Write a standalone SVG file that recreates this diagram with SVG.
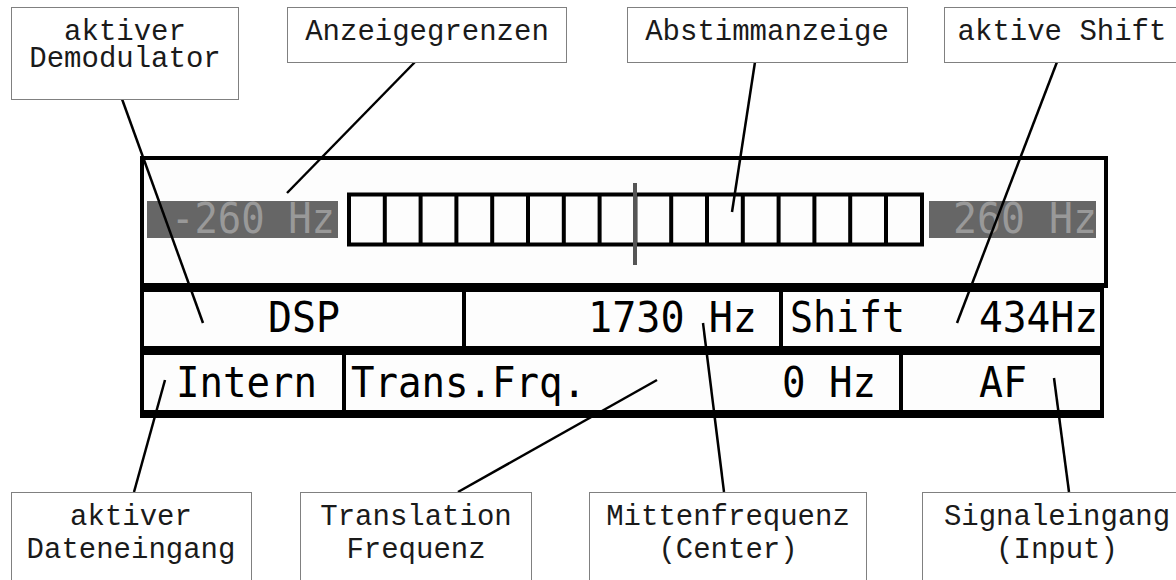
<svg xmlns="http://www.w3.org/2000/svg" width="1176" height="580" viewBox="0 0 1176 580">
<style>
.lbl rect{fill:#fff;stroke:#808080;stroke-width:1}
.lbl text{font-family:"Liberation Mono","Courier New",monospace;font-size:29px;fill:#1a1a1a;text-anchor:middle}
.lcd{font-family:"DejaVu Sans Mono","Liberation Mono",monospace;font-size:42px;fill:#000}
.lim{font-family:"DejaVu Sans Mono","Liberation Mono",monospace;font-size:42px;fill:#999}
.blk{fill:#000}
.conn line{stroke:#000;stroke-width:2.5;stroke-linecap:butt}
</style>
<rect width="1176" height="580" fill="#fff"/>

<g id="display">
  <rect x="142" y="158" width="964" height="128" fill="#fdfdfd" stroke="#000" stroke-width="4"/>
  <rect x="143" y="292" width="957" height="118" fill="#fdfdfd"/>
  <rect class="blk" x="140" y="283" width="964" height="9"/>
  <rect class="blk" x="140" y="346" width="964" height="9"/>
  <rect class="blk" x="140" y="410" width="964" height="8"/>
  <rect class="blk" x="140" y="283" width="4" height="135"/>
  <rect class="blk" x="1100" y="283" width="4" height="135"/>
  <rect class="blk" x="462" y="292" width="4" height="54"/>
  <rect class="blk" x="779" y="292" width="4" height="54"/>
  <rect class="blk" x="342" y="355" width="4" height="55"/>
  <rect class="blk" x="899" y="355" width="4" height="55"/>

  <rect x="147" y="201" width="191" height="37" fill="#666"/>
  <text class="lim" x="171" y="233" textLength="164" lengthAdjust="spacingAndGlyphs">-260 Hz</text>
  <rect x="929" y="201" width="167" height="37" fill="#666"/>
  <text class="lim" x="953" y="233" textLength="144" lengthAdjust="spacingAndGlyphs">260 Hz</text>

  <rect x="349" y="194.5" width="573" height="50" fill="none" stroke="#000" stroke-width="4"/>
  <path d="M384.8 194.5V244.5M420.6 194.5V244.5M456.4 194.5V244.5M492.2 194.5V244.5M528 194.5V244.5M563.8 194.5V244.5M599.6 194.5V244.5M635.4 194.5V244.5M671.2 194.5V244.5M707 194.5V244.5M742.8 194.5V244.5M778.6 194.5V244.5M814.4 194.5V244.5M850.2 194.5V244.5M886 194.5V244.5" stroke="#000" stroke-width="4" fill="none"/>
  <rect x="633" y="183" width="4" height="82" fill="#555"/>

  <text class="lcd" x="268" y="332" textLength="72" lengthAdjust="spacingAndGlyphs">DSP</text>
  <text class="lcd" x="588" y="332" textLength="169" lengthAdjust="spacingAndGlyphs">1730 Hz</text>
  <text class="lcd" x="790" y="332" textLength="115" lengthAdjust="spacingAndGlyphs">Shift</text>
  <text class="lcd" x="979" y="332" textLength="119" lengthAdjust="spacingAndGlyphs">434Hz</text>
  <text class="lcd" x="176" y="397" textLength="141" lengthAdjust="spacingAndGlyphs">Intern</text>
  <text class="lcd" x="351" y="397" textLength="235" lengthAdjust="spacingAndGlyphs">Trans.Frq.</text>
  <text class="lcd" x="782" y="397" textLength="94" lengthAdjust="spacingAndGlyphs">0 Hz</text>
  <text class="lcd" x="979" y="397" textLength="48" lengthAdjust="spacingAndGlyphs">AF</text>
</g>

<g id="connectors" class="conn">
  <line x1="122" y1="99" x2="203" y2="323"/>
  <line x1="415" y1="62" x2="287" y2="193"/>
  <line x1="755" y1="62" x2="732" y2="212"/>
  <line x1="1057" y1="62" x2="957" y2="323"/>
  <line x1="134" y1="492" x2="165" y2="380"/>
  <line x1="458" y1="492" x2="657" y2="380"/>
  <line x1="724" y1="492" x2="703" y2="323"/>
  <line x1="1069" y1="492" x2="1054" y2="378"/>
</g>

<g id="lbl-demodulator" class="lbl">
  <rect x="11.5" y="7.5" width="227" height="92"/>
  <text x="125" y="39.5">aktiver</text>
  <text x="125" y="66.5">Demodulator</text>
</g>
<g id="lbl-anzeigegrenzen" class="lbl">
  <rect x="287.5" y="7.5" width="279" height="55"/>
  <text x="427" y="39.5">Anzeigegrenzen</text>
</g>
<g id="lbl-abstimmanzeige" class="lbl">
  <rect x="627.5" y="7.5" width="280" height="55"/>
  <text x="767" y="39.5">Abstimmanzeige</text>
</g>
<g id="lbl-shift" class="lbl">
  <rect x="944.5" y="7.5" width="250" height="55"/>
  <text x="1062" y="39.5">aktive Shift</text>
</g>
<g id="lbl-dateneingang" class="lbl">
  <rect x="11.5" y="492.5" width="240" height="110"/>
  <text x="131" y="525">aktiver</text>
  <text x="131" y="558">Dateneingang</text>
</g>
<g id="lbl-translation" class="lbl">
  <rect x="300.5" y="492.5" width="231" height="110"/>
  <text x="416" y="525">Translation</text>
  <text x="416" y="558">Frequenz</text>
</g>
<g id="lbl-mitten" class="lbl">
  <rect x="589.5" y="492.5" width="277" height="110"/>
  <text x="728" y="525">Mittenfrequenz</text>
  <text x="728" y="558">(Center)</text>
</g>
<g id="lbl-signal" class="lbl">
  <rect x="922.5" y="492.5" width="280" height="110"/>
  <text x="1057" y="525">Signaleingang</text>
  <text x="1057" y="558">(Input)</text>
</g>
</svg>
